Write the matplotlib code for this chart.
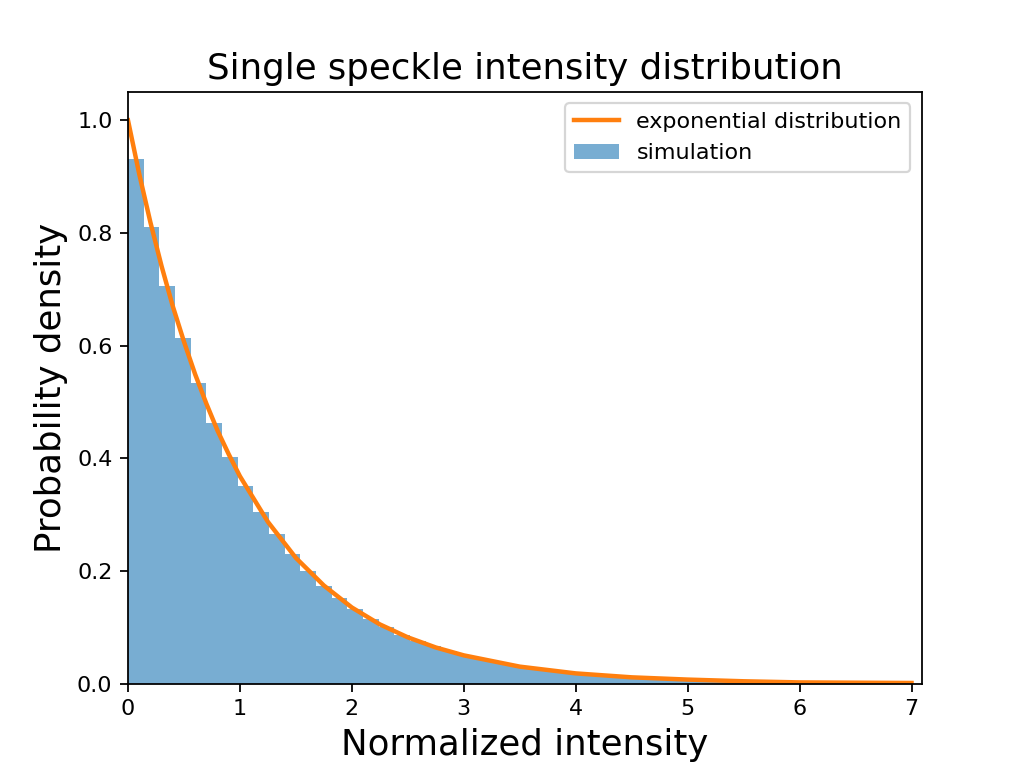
import matplotlib
matplotlib.use('Agg')
import matplotlib.pyplot as plt
import numpy as np

# histogram of simulated intensities: 50 bins on [0, 7]
bin_edges = np.linspace(0, 7, 51)
densities = [0.932, 0.811, 0.705, 0.613, 0.533, 0.463, 0.403, 0.350, 0.305, 0.265,
             0.230, 0.200, 0.174, 0.151, 0.132, 0.115, 0.100, 0.087, 0.075, 0.066,
             0.057, 0.050, 0.043, 0.038, 0.033, 0.029, 0.025, 0.022, 0.019, 0.016,
             0.014, 0.012, 0.011, 0.009, 0.008, 0.007, 0.006, 0.005, 0.005, 0.004,
             0.003, 0.003, 0.003, 0.002, 0.002, 0.002, 0.001, 0.001, 0.001, 0.001]

# exponential reference curve
curve_x = [0.0, 0.1, 0.2, 0.3, 0.4, 0.5, 0.6, 0.7, 0.8, 0.9, 1.0, 1.25, 1.5, 1.75, 2.0,
           2.25, 2.5, 2.75, 3.0, 3.5, 4.0, 4.5, 5.0, 5.5, 6.0, 6.5, 7.0]
curve_y = [1.000, 0.905, 0.819, 0.741, 0.670, 0.607, 0.549, 0.497, 0.449, 0.407, 0.368,
           0.287, 0.223, 0.174, 0.135, 0.105, 0.082, 0.064, 0.050, 0.030, 0.018,
           0.011, 0.007, 0.004, 0.002, 0.0015, 0.001]


def main() -> None:
    fig, ax = plt.subplots(figsize=(6.4, 4.8), dpi=160)
    ax.bar(bin_edges[:-1], densities, width=np.diff(bin_edges), align='edge',
           color='C0', alpha=0.6, label='simulation')
    ax.plot(curve_x, curve_y, color='C1', lw=2, label='exponential distribution')
    ax.set_xlim(0, 7.09)
    ax.set_ylim(0, 1.05)
    ax.set_title('Single speckle intensity distribution', fontsize=16)
    ax.set_xlabel('Normalized intensity', fontsize=16)
    ax.set_ylabel('Probability density', fontsize=16)
    ax.legend()
    fig.savefig('out.png', dpi=160)


if __name__ == '__main__':
    main()
